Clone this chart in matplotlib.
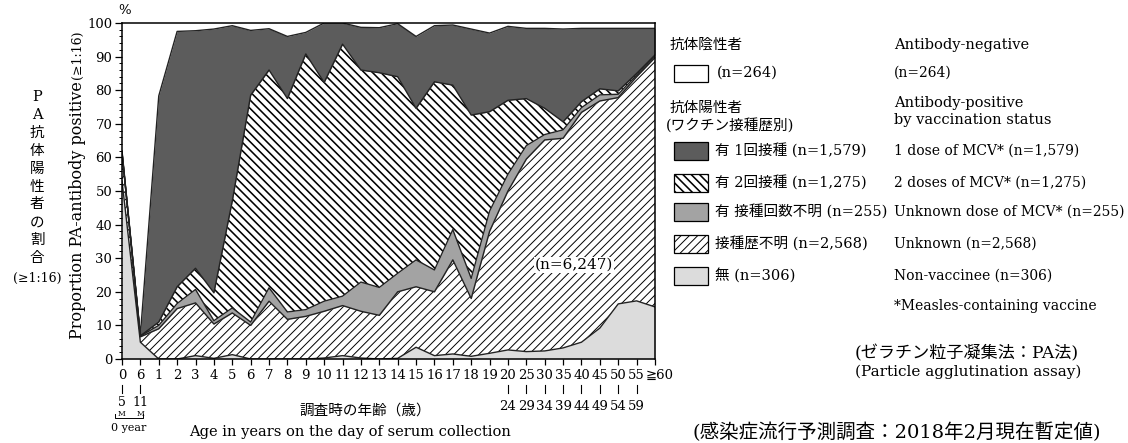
import numpy as np
import matplotlib
matplotlib.use("Agg")
import matplotlib.pyplot as plt
from matplotlib.patches import Rectangle
from matplotlib.lines import Line2D
from matplotlib.transforms import blended_transform_factory, ScaledTranslation

plt.rcParams['font.family'] = ['DejaVu Serif', 'DejaVu Sans', 'Noto Sans CJK JP']
plt.rcParams['hatch.linewidth'] = 0.8

# Age groups: upper label row and lower (range end) row
age_top = ["0", "6", "1", "2", "3", "4", "5", "6", "7", "8", "9", "10", "11", "12",
           "13", "14", "15", "16", "17", "18", "19", "20", "25", "30", "35", "40",
           "45", "50", "55", "≧60"]
age_low = ["5", "11", "", "", "", "", "", "", "", "", "", "", "", "", "", "", "", "",
           "", "", "", "24", "29", "34", "39", "44", "49", "54", "59", ""]

# Percentage of each age group, stacked from the bottom
non_vaccinee = [53, 5, 0, 0, 1, 0.2, 1.3, 0, 0, 0, 0, 0.3, 1, 0.3, 0, 0.2, 3.5, 1,
                1.5, 0.8, 1.7, 2.7, 2.2, 2.4, 3.3, 5, 9.2, 16.4, 17.3, 15.5]
unknown_history = [8.5, 1.6, 9, 15, 15.7, 10.2, 12.4, 10, 17.2, 11.8, 12.7, 13.9, 14.9,
                   13.9, 13, 19.8, 18, 19, 28, 17.2, 36.3, 47.3, 57.3, 62.8, 62.4,
                   68.4, 67.6, 61.4, 66.7, 74.2]
unknown_dose = [0, 0.2, 1, 1.5, 4, 1, 1.5, 1, 4, 2.2, 2, 3, 2.8, 8.7, 8.3, 5.5, 8,
                6.5, 9, 6, 6, 5, 4, 1.6, 2.5, 1.4, 1.8, 1, 0.5, 0.4]
two_doses = [0, 0.1, 1, 5, 6.3, 8.3, 31.8, 67.5, 64.8, 63.5, 76.1, 65.1, 75, 63.1,
             63.9, 58.5, 45.1, 56, 43, 48.6, 29.6, 22, 14, 7.8, 2.4, 1.8, 1.8, 1,
             0.5, 0.4]
one_dose = [0.5, 0.3, 67.3, 76, 70.7, 78.5, 52.2, 19.3, 12.3, 18.5, 6.4, 17.7, 6.3,
            12.7, 13.4, 15.8, 21.4, 16.7, 17.9, 25.6, 23.4, 22, 20.9, 23.8, 27.6,
            21.8, 18, 18.6, 13.4, 7.9]

DARK = "#5c5c5c"
MID = "#a3a3a3"
LIGHT = "#dcdcdc"

layers = [
    (non_vaccinee, LIGHT, None, 0.8),
    (unknown_history, "white", "////", 0.7),
    (unknown_dose, MID, None, 0.8),
    (two_doses, "white", "\\\\\\\\", 1.15),
    (one_dose, DARK, None, 0.8),
]

W, H = 1128, 443
fig = plt.figure(figsize=(W / 100, H / 100), dpi=100)


def fx(px):
    return px / W


def fy(py):
    return 1 - py / H


def ftext(px, py, s, size=10.5, ha="left", va="center", **kw):
    fig.text(fx(px), fy(py), s, fontsize=size, ha=ha, va=va, **kw)


def hatch_width(artist, lw):
    if hasattr(artist, "set_hatch_linewidth"):
        artist.set_hatch_linewidth(lw)


ax = fig.add_axes([fx(122), fy(359), 533 / W, 336 / H])
x = np.arange(len(age_top))
base = np.zeros(len(x))
for vals, fc, hatch, hlw in layers:
    top = base + np.asarray(vals, dtype=float)
    plt.rcParams['hatch.linewidth'] = hlw
    coll = ax.fill_between(x, base, top, facecolor=fc, edgecolor="black",
                           hatch=hatch, linewidth=0)
    hatch_width(coll, hlw)
    ax.plot(x, top, color="#222222", lw=1.0)
    base = top

ax.text(24.6, 28, "(n=6,247)", fontsize=11, ha="center", va="center",
        bbox=dict(facecolor="white", edgecolor="none", pad=0.5))

for s in ax.spines.values():
    s.set_linewidth(1.1)
ax.set_yticks(np.arange(0, 101, 10))
ax.set_yticks(np.arange(0, 101, 2), minor=True)
ax.tick_params(axis="y", which="major", length=5, width=0.9, pad=2, labelsize=9.5)
ax.tick_params(axis="y", which="minor", length=2.5, width=0.7)
ax.set_xticks(x, age_top)
ax.tick_params(axis="x", length=4, width=0.9, pad=3, labelsize=9.5)
# keep the last label clear of its neighbour
last = ax.get_xticklabels()[-1]
last.set_transform(last.get_transform() + ScaledTranslation(3 / 72, 0, fig.dpi_scale_trans))

# lower row of age range labels with connector marks
trans = blended_transform_factory(ax.transData, fig.transFigure)
for i, lab in enumerate(age_low):
    if lab:
        ax.add_line(Line2D([i, i], [fy(385), fy(393)], transform=trans, color="black",
                           lw=0.8, clip_on=False))
        ax.text(i, fy(403 if i < 2 else 406), lab, transform=trans,
                fontsize=9 if i < 2 else 9.5, ha="center", va="center")
for i in (0, 1):
    ax.text(i, fy(413.5), "M", transform=trans, fontsize=5.5, ha="center",
            va="center")
ax.set_xlim(0, len(x) - 1)
ax.set_ylim(0, 100)

fig.add_artist(Line2D([fx(115), fx(115), fx(143), fx(143)],
                      [fy(414), fy(418), fy(418), fy(414)], color="black", lw=0.7))
ftext(129, 428, "0 year", size=8, ha="center")

# axis titles
ftext(125, 10, "%", size=9.5, ha="center")
ftext(77, 210, "Proportion PA-antibody positive", size=11.5, ha="center",
      rotation=90)
ftext(77, 55, "(≥1:16)", size=9, ha="center", rotation=90)
jp_chars = ["P", "A", "抗", "体", "陽", "性", "者", "の", "割", "合"]
for k, ch in enumerate(jp_chars):
    ftext(37, 97 + 17.9 * k, ch, size=10.5, ha="center")
ftext(37, 278, "(≥1:16)", size=9, ha="center")
ftext(365, 411, "調査時の年齢（歳）", size=10.5, ha="center")
ftext(350, 432, "Age in years on the day of serum collection", size=10.5,
      ha="center")

# legend
ftext(670, 45, "抗体陰性者")
ftext(894, 45, "Antibody-negative")
fig.add_artist(Rectangle((fx(674), fy(82)), 34 / W, 17 / H, facecolor="white",
                         edgecolor="black", lw=0.9))
ftext(717, 73, "(n=264)")
ftext(894, 73, "(n=264)", size=10)
ftext(670, 108, "抗体陽性者")
ftext(666, 126, "(ワクチン接種歴別)")
ftext(894, 103, "Antibody-positive")
ftext(894, 120, "by vaccination status")

items = [
    (DARK, None, 0.8, 151, "有 1回接種 (n=1,579)", "1 dose of MCV* (n=1,579)"),
    ("white", "\\\\\\\\", 1.15, 183, "有 2回接種 (n=1,275)",
     "2 doses of MCV* (n=1,275)"),
    (MID, None, 0.8, 212, "有 接種回数不明 (n=255)", "Unknown dose of MCV* (n=255)"),
    ("white", "////", 0.7, 244, "接種歴不明 (n=2,568)", "Unknown (n=2,568)"),
    (LIGHT, None, 0.8, 276, "無 (n=306)", "Non-vaccinee (n=306)"),
]
for fc, hatch, hlw, yc, jp, en in items:
    plt.rcParams['hatch.linewidth'] = hlw
    rect = Rectangle((fx(674), fy(yc + 9)), 34 / W, 18 / H, facecolor=fc,
                     edgecolor="black", hatch=hatch, lw=0.9)
    hatch_width(rect, hlw)
    fig.add_artist(rect)
    ftext(715, yc, jp)
    ftext(894, yc, en, size=10)
ftext(894, 306, "*Measles-containing vaccine", size=10)

ftext(855, 354, "(ゼラチン粒子凝集法：PA法)", size=12.3)
ftext(855, 372, "(Particle agglutination assay)", size=11)
ftext(692, 432, "(感染症流行予測調査：2018年2月現在暫定値)", size=14)

fig.savefig("out.png", dpi=100)
